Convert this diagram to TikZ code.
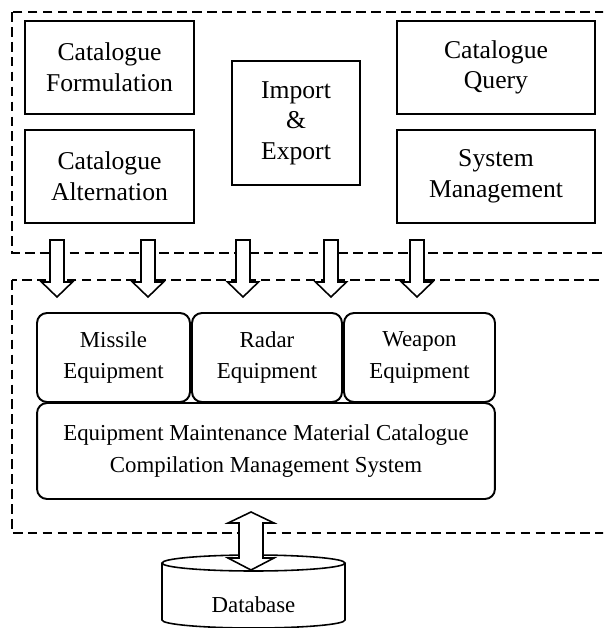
\documentclass[tikz,border=0pt]{standalone}
\usepackage{fontspec}
\setmainfont{Liberation Serif}
\usetikzlibrary{positioning}
\begin{document}
\begin{tikzpicture}[x=0.02cm,y=-0.02cm,
  box/.style={draw,line width=1.1pt,align=center,inner sep=0pt,font=\fontsize{14.6}{17.4}\selectfont},
  rbox/.style={box,rounded corners=0.2cm,font=\fontsize{13}{18}\selectfont},
  frame/.style={line width=0.9pt,dash pattern=on 5.5pt off 3pt},
  blockarrow/.style={draw,line width=0.9pt,fill=white,line join=miter}]
\useasboundingbox (0,0) rectangle (603,628);
\clip (0,0) rectangle (603,628);
%dashed frames
\draw[frame] (12,12) rectangle (620,253);
\draw[frame] (12,280) rectangle (620,533);
%function modules
\node[box,minimum width=3.38cm,minimum height=1.86cm] (form) at (109.5,67.5) {Catalogue\\Formulation};
\node[box,minimum width=3.38cm,minimum height=1.86cm] (alter) at (109.5,176.5) {Catalogue\\Alternation};
\node[box,minimum width=2.56cm,minimum height=2.48cm] (impexp) at (296,123) {Import\\\&\\Export};
\node[box,minimum width=3.96cm,minimum height=1.86cm] (query) at (496,67.5) {Catalogue\\Query};
\node[box,minimum width=3.96cm,minimum height=1.86cm] (sysman) at (496,176.5) {System\\Management};
%arrows down into the system
\foreach \c in {57,148,243,331,417}
  \draw[blockarrow] (\c-7,240) -- (\c+7,240) -- (\c+7,282) -- (\c+15.5,282) -- (\c,297) -- (\c-15.5,282) -- (\c-7,282) -- cycle;
%equipment kinds
\node[rbox,minimum width=3.06cm,minimum height=1.78cm] (missile) at (113.5,357.5) {Missile\\Equipment};
\node[rbox,minimum width=3.0cm,minimum height=1.78cm] (radar) at (267,357.5) {Radar\\Equipment};
\node[rbox,minimum width=3.02cm,minimum height=1.78cm] (weapon) at (419.5,357.5) {Weapon\\Equipment};
\node[rbox,minimum width=9.16cm,minimum height=1.92cm] (emms) at (266,451) {Equipment Maintenance Material Catalogue\\Compilation Management System};
%database
\draw[line width=0.9pt] (162,563) -- (162,620) arc[start angle=180,end angle=0,x radius=91.5,y radius=8] -- (345,563);
\draw[line width=0.9pt] (253.5,563) ellipse [x radius=91.5,y radius=8];
\node[box,draw=none,font=\fontsize{13}{18}\selectfont] (db) at (253.5,605) {Database};
%two way arrow
\draw[blockarrow] (251,512) -- (274,523) -- (263,523) -- (263,558) -- (274,558) -- (251,570) -- (228,558) -- (239,558) -- (239,523) -- (228,523) -- cycle;
\end{tikzpicture}
\end{document}
